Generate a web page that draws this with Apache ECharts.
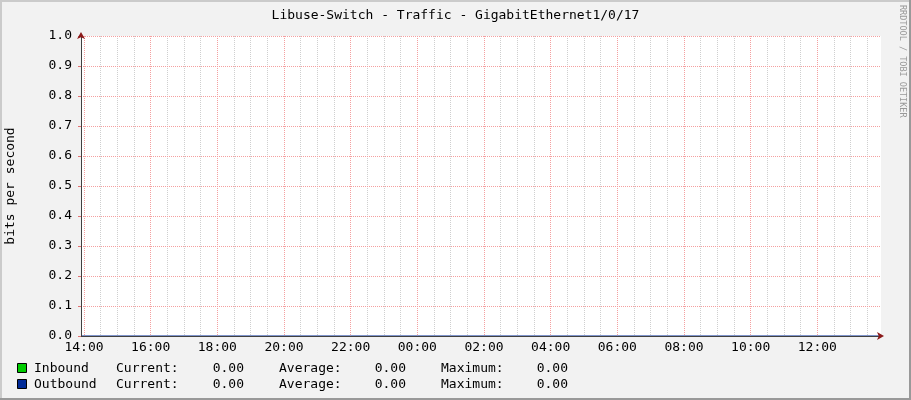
<!DOCTYPE html>
<html>
<head>
<meta charset="utf-8">
<script src="https://cdn.jsdelivr.net/npm/echarts@6/dist/echarts.min.js"></script>
<style>
html,body{margin:0;padding:0;background:#f2f2f2;}
#chart{width:911px;height:400px;}
</style>
</head>
<body>
<div id="chart"></div>
<script>
// ---- data ----
const chartTitle = 'Libuse-Switch - Traffic - GigabitEthernet1/0/17';
const yAxisName = 'bits per second';
const creditText = 'RRDTOOL / TOBI OETIKER';
// x positions are hours relative to 14:00 on the first day
const xStart = -0.09;   // ~13:54:36
const xEnd = 23.91;     // 24 h window
const sampleHours = [-0.09, 2, 4, 6, 8, 10, 12, 14, 16, 18, 20, 22, 23.91];
const inboundValues = [0, 0, 0, 0, 0, 0, 0, 0, 0, 0, 0, 0, 0];
const outboundValues = [0, 0, 0, 0, 0, 0, 0, 0, 0, 0, 0, 0, 0];
const majorHours = [0, 2, 4, 6, 8, 10, 12, 14, 16, 18, 20, 22];
const majorLabels = ['14:00', '16:00', '18:00', '20:00', '22:00', '00:00', '02:00', '04:00', '06:00', '08:00', '10:00', '12:00'];
const minorHours = [0.5, 1, 1.5, 2.5, 3, 3.5, 4.5, 5, 5.5, 6.5, 7, 7.5, 8.5, 9, 9.5, 10.5, 11, 11.5,
  12.5, 13, 13.5, 14.5, 15, 15.5, 16.5, 17, 17.5, 18.5, 19, 19.5, 20.5, 21, 21.5, 22.5, 23, 23.5];
const yTickValues = [0, 0.1, 0.2, 0.3, 0.4, 0.5, 0.6, 0.7, 0.8, 0.9, 1.0];
const legendNames = ['Inbound', 'Outbound'];
const legendColors = ['#00cc00', '#002a97'];
const currentValues = [0.00, 0.00];
const averageValues = [0.00, 0.00];
const maximumValues = [0.00, 0.00];

// ---- chart ----
const FONT = 'DejaVu Sans Mono';
const chart = echarts.init(document.getElementById('chart'));

const graphics = [
  // frame shading
  { type: 'rect', shape: { x: 0, y: 0, width: 911, height: 2 }, style: { fill: '#cbcbcb' }, silent: true },
  { type: 'rect', shape: { x: 0, y: 0, width: 2, height: 400 }, style: { fill: '#cbcbcb' }, silent: true },
  { type: 'rect', shape: { x: 909, y: 0, width: 2, height: 400 }, style: { fill: '#999999' }, silent: true },
  { type: 'rect', shape: { x: 0, y: 398, width: 911, height: 2 }, style: { fill: '#999999' }, silent: true },
  // credit text
  { type: 'text', x: 907, y: 5, rotation: -Math.PI / 2,
    style: { text: creditText, fill: '#999999', font: '8.5px "DejaVu Sans Mono"', textAlign: 'left', textVerticalAlign: 'top' }, silent: true }
];

const rowY = [368, 384];
legendNames.forEach((name, i) => {
  const y = rowY[i];
  graphics.push({ type: 'rect', shape: { x: 17.5, y: y - 4.5, width: 9, height: 9 },
    style: { fill: legendColors[i], stroke: '#000', lineWidth: 1 }, silent: true });
  const txt = (s, x, align) => ({ type: 'text', x: x, y: y + 1,
    style: { text: s, fill: '#000', font: '13px "DejaVu Sans Mono"', textAlign: align, textVerticalAlign: 'middle' }, silent: true });
  graphics.push(txt(name, 34, 'left'));
  graphics.push(txt('Current:', 116, 'left'));
  graphics.push(txt(currentValues[i].toFixed(2), 244, 'right'));
  graphics.push(txt('Average:', 279, 'left'));
  graphics.push(txt(averageValues[i].toFixed(2), 406, 'right'));
  graphics.push(txt('Maximum:', 441, 'left'));
  graphics.push(txt(maximumValues[i].toFixed(2), 568, 'right'));
});

const gridLineMajor = { color: '#f4a0a0', width: 1, type: [1, 1] };
const gridLineMinor = { color: '#cfcfcf', width: 1, type: [1, 1] };

const option = {
  backgroundColor: '#f2f2f2',
  animation: false,
  title: {
    text: chartTitle, left: 'center', top: 4,
    textStyle: { fontFamily: FONT, fontSize: 13, fontWeight: 'normal', color: '#000' }
  },
  grid: { left: 81, right: 30, top: 36, bottom: 64, show: true, backgroundColor: '#ffffff', borderWidth: 0,
    containLabel: false, outerBoundsMode: 'none' },
  graphic: graphics,
  xAxis: [
    { // minor vertical grid
      type: 'value', min: xStart, max: xEnd, position: 'bottom', z: 1,
      axisLine: { show: false, onZero: false }, axisLabel: { show: false },
      axisTick: { show: false, customValues: minorHours },
      splitLine: { show: true, lineStyle: gridLineMinor }
    },
    { // major grid + labels + axis line
      type: 'value', min: xStart, max: xEnd, position: 'bottom', z: 5,
      axisLine: { show: true, onZero: false, lineStyle: { color: '#404040', width: 1 } },
      axisTick: { show: false, customValues: majorHours },
      axisLabel: {
        customValues: majorHours, margin: 5,
        fontFamily: FONT, fontSize: 13, color: '#000',
        formatter: v => { const k = majorHours.indexOf(v); return k >= 0 ? majorLabels[k] : ''; }
      },
      splitLine: { show: true, lineStyle: gridLineMajor }
    },
    { // arrow
      type: 'value', min: xStart, max: xEnd, position: 'bottom', z: 6,
      axisLine: { show: true, onZero: false, symbol: ['none', 'arrow'], symbolSize: [6, 7], symbolOffset: [0, 3],
        lineStyle: { color: '#8b1a1a', width: 0 } },
      axisTick: { show: false }, axisLabel: { show: false }, splitLine: { show: false }
    }
  ],
  yAxis: [
    {
      type: 'value', min: 0, max: 1, interval: 0.1, position: 'left', z: 5,
      name: yAxisName, nameLocation: 'middle', nameGap: 64, nameRotate: 90,
      nameTextStyle: { fontFamily: FONT, fontSize: 13, color: '#000' },
      axisLine: { show: true, onZero: false, lineStyle: { color: '#404040', width: 1 } },
      axisTick: { show: true, length: 3, lineStyle: { color: '#e07070' }, customValues: yTickValues },
      axisLabel: { margin: 9, fontFamily: FONT, fontSize: 13, color: '#000', formatter: v => v.toFixed(1) },
      splitLine: { show: true, lineStyle: gridLineMajor }
    },
    {
      type: 'value', min: 0, max: 1, position: 'left', z: 6,
      axisLine: { show: true, onZero: false, symbol: ['none', 'arrow'], symbolSize: [6, 7], symbolOffset: [0, 4],
        lineStyle: { color: '#8b1a1a', width: 0 } },
      axisTick: { show: false }, axisLabel: { show: false }, splitLine: { show: false }
    }
  ],
  series: [
    {
      name: legendNames[0], type: 'line', xAxisIndex: 1, yAxisIndex: 0, z: 2,
      showSymbol: false, data: sampleHours.map((h, i) => [h, inboundValues[i]]),
      lineStyle: { width: 0, color: legendColors[0] }, areaStyle: { color: legendColors[0], opacity: 1 }
    },
    {
      name: legendNames[1], type: 'line', xAxisIndex: 1, yAxisIndex: 0, z: 2,
      showSymbol: false, data: sampleHours.map((h, i) => [h, outboundValues[i]]),
      lineStyle: { width: 1, color: legendColors[1] }
    }
  ]
};
chart.setOption(option);
</script>
</body>
</html>
